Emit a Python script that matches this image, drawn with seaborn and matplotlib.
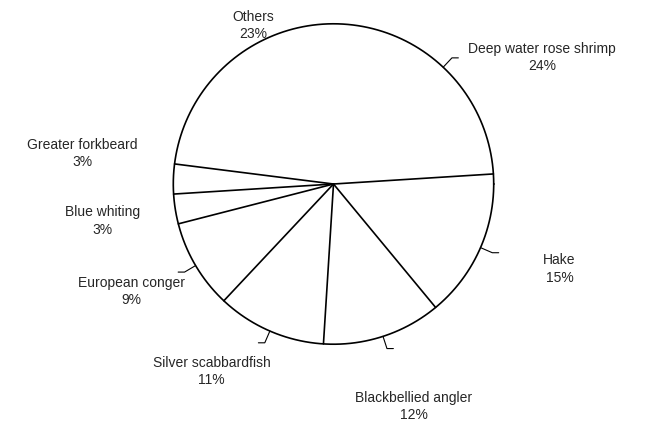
import matplotlib
matplotlib.use("Agg")
import matplotlib.pyplot as plt
import seaborn as sns
import numpy as np

categories = ["Deep water rose shrimp", "Hake", "Blackbellied angler", "Silver scabbardfish",
              "European conger", "Blue whiting", "Greater forkbeard", "Others"]
values = [24, 15, 12, 11, 9, 3, 3, 23]

sns.set_theme(style="white")
plt.rcParams['font.family'] = ['Liberation Sans', 'DejaVu Sans']

fig = plt.figure(figsize=(6.67, 4.23), dpi=100)
ax = fig.add_axes([0.5 - 0.245, 0.17, 0.49, 0.79])
wedges, _ = ax.pie(values, startangle=90, counterclock=False,
                   colors=["white"] * len(values),
                   wedgeprops=dict(edgecolor="none"))
# outer circle and radial boundaries (boundary between Others and first slice not drawn)
t = np.linspace(0, 2 * np.pi, 400)
ax.plot(np.cos(t), np.sin(t), color="black", lw=1.2)
for w in wedges[:-1]:
    a = np.deg2rad(w.theta1)
    ax.plot([0, np.cos(a)], [0, np.sin(a)], color="black", lw=1.2)
ax.set_aspect("equal")

label_pos = [(1.30, 0.79), (1.41, -0.53), (0.50, -1.39), (-0.76, -1.17),
             (-1.26, -0.67), (-1.44, -0.23), (-1.57, 0.19), (-0.50, 0.99)]
leaders = [True, True, True, True, True, False, False, False]
for w, cat, v, pos, lead in zip(wedges, categories, values, label_pos, leaders):
    ang = np.deg2rad((w.theta1 + w.theta2) / 2)
    ex, ey = np.cos(ang), np.sin(ang)
    ax.text(pos[0], pos[1], f"{cat}\n{v}%", ha="center", va="center",
            fontsize=10, linespacing=1.3, clip_on=False)
    if lead:
        ax.plot([ex, ex * 1.08, ex * 1.08 + np.sign(ex) * 0.04],
                [ey, ey * 1.08, ey * 1.08], color="black", lw=0.8, clip_on=False)
ax.set_xlim(-1.02, 1.02)
ax.set_ylim(-1.02, 1.02)
fig.savefig("out.png", dpi=100, facecolor="white")
